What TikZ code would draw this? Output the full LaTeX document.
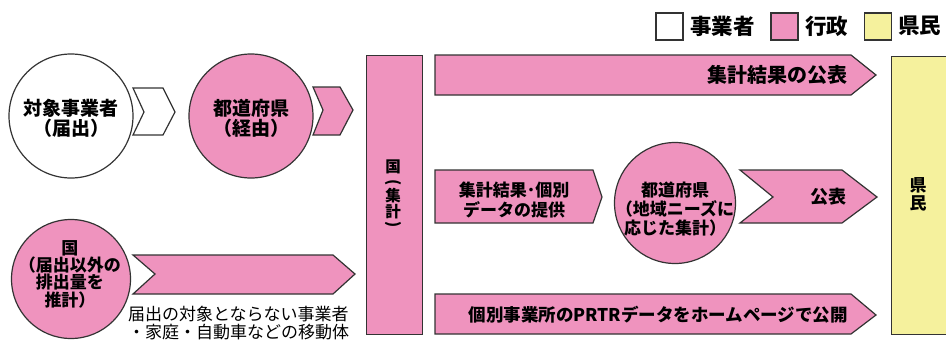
\documentclass[tikz,border=0pt]{standalone}
\usepackage{fontspec}
\setmainfont{Noto Sans CJK JP}
\definecolor{gyosei}{HTML}{EF93BE}
\definecolor{kenmin}{HTML}{F5F19D}
\definecolor{edge}{HTML}{333333}
\tikzset{
  shp/.style={draw=edge, line width=1.2pt, line join=miter},
  pinkshp/.style={shp, fill=gyosei},
  whiteshp/.style={shp, fill=white},
  yellowshp/.style={shp, fill=kenmin},
  circ/.style={shp, circle, minimum size=#1, inner sep=0pt},
  lbl/.style={font=\bfseries\fontsize{#1}{20}\selectfont, align=center, inner sep=0pt, text=black},
  legbox/.style={shp, minimum size=27pt, inner sep=0pt},
  vch/.style={font=\bfseries\fontsize{15.5}{16}\selectfont, inner sep=0pt},
}
\begin{document}
\begin{tikzpicture}[x=1pt,y=-1pt]
\path[use as bounding box] (0,0) rectangle (946,349);

% legend
\node[legbox, fill=white] (lg1) at (669.5,26.5) {};
\node[lbl=21.5, anchor=west] (lt1) at (690,26) {事業者};
\node[legbox, fill=gyosei] (lg2) at (784.5,26.5) {};
\node[lbl=21.5, anchor=west] (lt2) at (805,26) {行政};
\node[legbox, fill=kenmin] (lg3) at (878,26.5) {};
\node[lbl=21.5, anchor=west] (lt3) at (898,26) {県民};

% yellow citizens box
\node[yellowshp, anchor=north west, minimum width=60pt, minimum height=278pt, inner sep=0pt] (ken) at (891,56) {};
\node[lbl=17, font=\bfseries\fontsize{17}{18}\selectfont] (kent) at (918,194) {県\\民};

% chevrons
\draw[whiteshp] (133,88) -- (163,88) -- (175,112) -- (163,135) -- (133,135) -- (144,112) -- cycle;
\draw[pinkshp] (313,87) -- (340,87) -- (353,110) -- (340,135) -- (313,135) -- (323,110) -- cycle;
\draw[pinkshp] (133,255) -- (333,255) -- (355,274) -- (333,294) -- (133,294) -- (155,274) -- cycle;

% national box
\node[pinkshp, anchor=north west, minimum width=56pt, minimum height=279pt, inner sep=0pt] (kuni) at (366,55) {};
\node[vch] (kv1) at (393,167) {国};
\node[vch, rotate=-90] (kv2) at (393,183) {(};
\node[vch] (kv3) at (393,196) {集};
\node[vch] (kv4) at (393,212) {計};
\node[vch, rotate=-90] (kv5) at (393,225) {)};

% arrows from national
\draw[pinkshp] (435,55) -- (851,55) -- (876,75) -- (851,95) -- (435,95) -- cycle;
\draw[pinkshp] (435,170) -- (593,170) -- (602,197) -- (593,223) -- (435,223) -- cycle;
\draw[pinkshp] (740,170) -- (842,170) -- (877,197) -- (842,223) -- (740,223) -- (773,197) -- cycle;
\draw[pinkshp] (435,294) -- (851,294) -- (876,315) -- (851,334) -- (435,334) -- cycle;

% circles
\node[circ=124pt, whiteshp] (c1) at (71,116) {};
\node[circ=124pt, pinkshp] (c2) at (251,116) {};
\node[circ=121pt, pinkshp] (c4) at (675,203) {};
\node[circ=119pt, pinkshp] (c3) at (71,279) {};

% texts
\node[lbl=19] (t1) at (71,118) {対象事業者\\（届出）};
\node[lbl=19] (t2) at (251,118) {都道府県\\（経由）};
\node[lbl=17, font=\bfseries\fontsize{17}{15.8}\selectfont] (t3) at (70,274) {国\\（届出以外の\\排出量を\\推計）};
\node[lbl=17, font=\bfseries\fontsize{17}{19}\selectfont] (t4) at (675,209) {都道府県\\（地域ニーズに\\応じた集計）};
\node[lbl=20, anchor=east] (ta) at (848,75) {集計結果の公表};
\node[lbl=17] (tb) at (514,200) {集計結果･個別\\データの提供};
\node[lbl=18] (tc) at (828,197) {公表};
\node[lbl=17.5, anchor=east] (td) at (848,315) {個別事業所のPRTRデータをホームページで公開};
\node[font=\fontsize{17}{18}\selectfont, align=left, anchor=west, inner sep=0pt] (cap) at (128,323) {届出の対象とならない事業者\\・家庭・自動車などの移動体};
\end{tikzpicture}
\end{document}
